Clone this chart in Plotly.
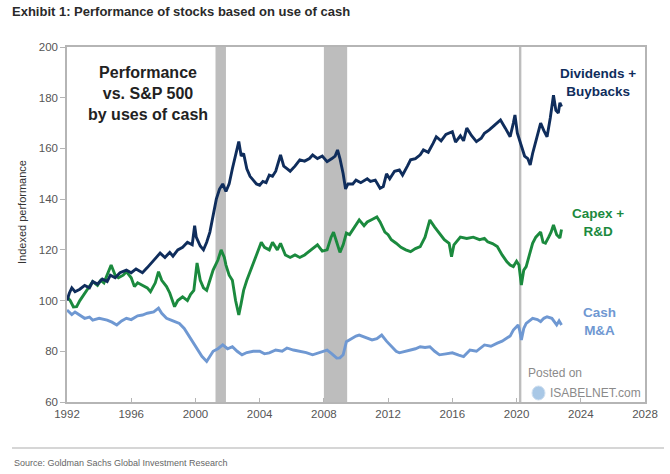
import plotly.graph_objects as go

# ---------------- data ----------------
div_years = [1992.0, 1992.15, 1992.3, 1992.5, 1992.8, 1993.1, 1993.4, 1993.6, 1993.9, 1994.2, 1994.5, 1994.7,
             1995.0, 1995.3, 1995.7, 1996.0, 1996.3, 1996.7, 1997.0, 1997.4, 1997.8, 1998.1, 1998.4, 1998.6,
             1998.9, 1999.2, 1999.5, 1999.8, 1999.95, 2000.05, 2000.3, 2000.5, 2000.7, 2000.9, 2001.1, 2001.3,
             2001.5, 2001.7, 2001.9, 2002.1, 2002.3, 2002.45, 2002.6, 2002.7, 2002.85, 2003.0, 2003.2, 2003.4,
             2003.6, 2003.8, 2004.0, 2004.2, 2004.4, 2004.6, 2004.8, 2005.0, 2005.3, 2005.5, 2005.7, 2005.9,
             2006.2, 2006.5, 2006.8, 2007.1, 2007.3, 2007.6, 2007.9, 2008.2, 2008.5, 2008.7, 2008.85, 2009.0,
             2009.2, 2009.35, 2009.5, 2009.8, 2010.0, 2010.3, 2010.7, 2010.9, 2011.2, 2011.5, 2011.7, 2011.9,
             2012.1, 2012.4, 2012.7, 2012.9, 2013.2, 2013.4, 2013.7, 2014.0, 2014.2, 2014.5, 2014.8, 2015.0,
             2015.3, 2015.6, 2016.0, 2016.2, 2016.5, 2016.7, 2016.9, 2017.2, 2017.5, 2017.8, 2018.0, 2018.3,
             2018.6, 2018.8, 2019.0, 2019.3, 2019.5, 2019.6, 2019.8, 2019.9, 2020.05, 2020.2, 2020.3, 2020.5,
             2020.7, 2020.85, 2021.0, 2021.2, 2021.5, 2021.7, 2021.9, 2022.1, 2022.2, 2022.3, 2022.45, 2022.6,
             2022.7, 2022.8]
div_values = [100, 103, 105, 103.5, 104.5, 106, 105, 107.5, 106.5, 108.5, 107.5, 110,
              109, 111, 112, 111, 112.5, 111, 113, 116, 118.7, 117, 119, 117.5,
              120, 121, 123, 122, 129.5, 125, 121.5, 120, 123, 127, 133, 140,
              144, 146, 143, 146, 152, 156, 159, 162.7, 157, 158, 152, 149,
              147.5, 146, 145.5, 147, 146.5, 149.5, 149, 151, 157.4, 153, 152, 151,
              153, 155.5, 155, 156, 157.4, 156, 157, 154.8, 156, 157, 159.4, 156,
              150, 144, 146, 146, 147.5, 146.5, 148, 147, 147.5, 144.3, 145, 150,
              148, 151, 151.5, 149.5, 153, 155.5, 156, 157.5, 159.4, 158.5, 162, 164.6,
              163, 165.5, 166.6, 162.5, 165, 163, 168, 165, 162.7, 164, 166, 167.3,
              169, 170, 171.2, 168, 166, 164.6, 170, 173.2, 166, 163, 160.7, 157,
              156, 153.5, 158, 163, 170, 167, 164.6, 172, 176, 181, 175, 174,
              178, 176.5]

capex_years = [1992.0, 1992.2, 1992.4, 1992.6, 1992.8, 1993.1, 1993.3, 1993.6, 1993.9, 1994.1, 1994.3, 1994.5,
               1994.75, 1995.0, 1995.2, 1995.5, 1995.7, 1996.0, 1996.2, 1996.4, 1996.7, 1997.0, 1997.2, 1997.5,
               1997.7, 1997.9, 1998.2, 1998.4, 1998.7, 1998.9, 1999.2, 1999.5, 1999.7, 1999.9, 2000.1, 2000.3,
               2000.5, 2000.7, 2000.9, 2001.1, 2001.4, 2001.6, 2001.8, 2001.9, 2002.1, 2002.3, 2002.5, 2002.7,
               2002.85, 2003.0, 2003.2, 2003.5, 2003.8, 2004.1, 2004.3, 2004.6, 2004.8, 2005.1, 2005.3, 2005.6,
               2005.9, 2006.2, 2006.5, 2006.8, 2007.1, 2007.4, 2007.6, 2007.9, 2008.2, 2008.45, 2008.6, 2008.8,
               2009.0, 2009.2, 2009.4, 2009.6, 2009.8, 2010.0, 2010.2, 2010.5, 2010.7, 2011.0, 2011.3, 2011.5,
               2011.8, 2012.0, 2012.2, 2012.5, 2012.8, 2013.1, 2013.4, 2013.7, 2014.0, 2014.3, 2014.6, 2014.9,
               2015.2, 2015.5, 2015.8, 2015.95, 2016.1, 2016.5, 2016.9, 2017.3, 2017.7, 2018.0, 2018.2, 2018.5,
               2018.8, 2019.1, 2019.4, 2019.6, 2019.8, 2020.0, 2020.15, 2020.3, 2020.45, 2020.6, 2020.8, 2021.0,
               2021.2, 2021.5, 2021.65, 2021.8, 2022.0, 2022.15, 2022.3, 2022.5, 2022.7, 2022.8]
capex_values = [101.5, 100, 97.5, 97.6, 100, 103, 104.5, 107.5, 106, 108, 107, 110,
                114, 110, 109, 110, 111.4, 109, 105.5, 107, 106, 105, 103.5, 107,
                111.4, 108, 105.5, 103, 97.6, 100, 101.5, 100, 102.5, 104, 114.8, 108,
                105, 104, 108, 112, 116, 120, 117, 114, 110, 108, 100, 94.3,
                99, 104, 108, 113.4, 118, 123, 121, 120, 123, 120, 122.6, 118,
                117, 118, 117, 118, 119.5, 121, 122, 119.5, 120, 125, 127, 123,
                119, 122, 126.6, 126, 128, 130, 131.8, 129.5, 131, 132, 133, 131,
                127, 126, 124, 122.6, 121, 120, 119.3, 120.5, 121.3, 125, 131.8, 129,
                126.6, 124, 122.6, 117.3, 122, 125, 124.5, 125, 124, 124.5, 123.2, 122.5,
                121.3, 118, 115.3, 114, 113.4, 115.5, 114, 106.1, 112, 113.4, 118, 122.6,
                125, 127, 123, 122.6, 125, 127, 129.8, 126, 124.7, 128]

cash_years = [1992.0, 1992.3, 1992.5, 1992.8, 1993.1, 1993.4, 1993.6, 1994.0, 1994.5, 1994.8, 1995.1, 1995.4,
              1995.7, 1996.0, 1996.4, 1996.7, 1997.0, 1997.4, 1997.7, 1997.9, 1998.2, 1998.6, 1999.0, 1999.3,
              1999.5, 1999.8, 2000.1, 2000.4, 2000.7, 2000.9, 2001.1, 2001.4, 2001.7, 2002.0, 2002.3, 2002.6,
              2002.9, 2003.2, 2003.6, 2004.0, 2004.3, 2004.6, 2005.0, 2005.4, 2005.7, 2006.1, 2006.5, 2006.9,
              2007.3, 2007.7, 2008.0, 2008.2, 2008.5, 2008.8, 2009.0, 2009.2, 2009.4, 2009.7, 2010.0, 2010.2,
              2010.6, 2011.0, 2011.3, 2011.6, 2011.9, 2012.2, 2012.5, 2012.7, 2013.0, 2013.4, 2013.7, 2014.0,
              2014.3, 2014.6, 2014.9, 2015.2, 2015.6, 2016.0, 2016.4, 2016.7, 2017.1, 2017.5, 2018.0, 2018.4,
              2018.8, 2019.1, 2019.4, 2019.6, 2019.8, 2020.1, 2020.2, 2020.3, 2020.45, 2020.6, 2020.8, 2021.0,
              2021.3, 2021.5, 2021.7, 2021.9, 2022.2, 2022.4, 2022.5, 2022.65, 2022.8]
cash_values = [96.3, 94.5, 95.5, 94.3, 93, 93.5, 92.3, 93, 92.3, 91.5, 90.4, 92,
               93, 92.5, 94, 94.3, 95, 95.5, 97, 95, 93, 92, 91, 89,
               87, 84, 80.5, 78, 76, 78, 80, 81, 82.5, 81, 81.8, 80,
               78.6, 79.5, 80, 80, 79, 79.4, 80.5, 80, 81.3, 80.5, 80, 79.5,
               78.6, 79.5, 80, 80.5, 79, 77.3, 77.4, 78.6, 83.8, 85, 86, 86.4,
               85.5, 84.5, 85, 86.4, 84, 82, 80, 79.4, 80, 80.5, 81, 81.8,
               81.5, 81.8, 80, 78.6, 79, 79.4, 78.5, 77.9, 80.5, 80, 82.5, 82,
               83.2, 84, 85.2, 86, 88.4, 90.4, 88, 84.5, 89, 91, 92, 93,
               92.5, 91.7, 93, 93.6, 93, 91.5, 90.4, 92, 90.4]

recession_starts = [2001.25, 2008.0, 2020.15]
recession_ends = [2001.9, 2009.45, 2020.3]

x_ticks = [1992, 1996, 2000, 2004, 2008, 2012, 2016, 2020, 2024, 2028]
y_ticks = [60, 80, 100, 120, 140, 160, 180, 200]

NAVY = "#0f2d5c"
GREEN = "#1b8a3e"
LIGHT = "#6f98d2"
SANS = "Liberation Sans, Arial, sans-serif"

W, H = 670, 474
PL, PR, PT, PB = 67, 645, 47, 402  # plot area in pixels (from top-left)

fig = go.Figure()
for xs, ys, name, col in [(cash_years, cash_values, "Cash M&A", LIGHT),
                          (capex_years, capex_values, "Capex + R&D", GREEN),
                          (div_years, div_values, "Dividends + Buybacks", NAVY)]:
    fig.add_trace(go.Scatter(x=xs, y=ys, mode="lines", name=name,
                             line=dict(color=col, width=2.9), showlegend=False))

for s, e in zip(recession_starts, recession_ends):
    fig.add_shape(type="rect", xref="x", yref="paper", x0=s, x1=e, y0=0, y1=1,
                  fillcolor="#bdbdbd", line=dict(width=0), layer="below")

fig.update_layout(
    width=W, height=H,
    margin=dict(l=PL, r=W - PR, t=PT, b=H - PB, pad=0),
    paper_bgcolor="white", plot_bgcolor="white",
    font=dict(family=SANS, size=11.5, color="#555"),
    xaxis=dict(range=[1992, 2028], tickvals=x_ticks, ticktext=[str(v) for v in x_ticks],
               showgrid=False, zeroline=False, showline=True, linecolor="#b5b5b5", linewidth=1.5,
               mirror=True, ticks="inside", ticklen=4, tickcolor="#b5b5b5",
               tickfont=dict(family=SANS, size=11.5, color="#555")),
    yaxis=dict(range=[60, 200], tickvals=y_ticks, ticktext=[str(v) for v in y_ticks],
               showgrid=False, zeroline=False, showline=True, linecolor="#b5b5b5", linewidth=1.5,
               mirror=True, ticks="outside", ticklen=5, tickcolor="#b5b5b5",
               tickfont=dict(family=SANS, size=11.5, color="#555")),
)


def to_paper(px, py):
    """pixel (from top-left of figure) -> paper coords"""
    return (px - PL) / (PR - PL), (PB - py) / (PB - PT)


annots = [
    dict(text="<b>Exhibit 1: Performance of stocks based on use of cash</b>", x=10, y=12, size=13,
         color="#2a2a2a", xanchor="left"),
    dict(text="Indexed performance", x=22, y=212, size=11, color="#333", xanchor="center", angle=-90),
    dict(text="<b>Performance<br>vs. S&P 500<br>by uses of cash</b>", x=148, y=93, size=16,
         color="#222", xanchor="center"),
    dict(text="<b>Dividends +<br>Buybacks</b>", x=598, y=82, size=13.5, color=NAVY, xanchor="center"),
    dict(text="<b>Capex +<br>R&D</b>", x=598, y=222, size=13.5, color=GREEN, xanchor="center"),
    dict(text="<b>Cash<br>M&A</b>", x=599, y=321, size=13.5, color=LIGHT, xanchor="center"),
    dict(text="Posted on", x=526, y=373, size=12, color="#8a8a8a", xanchor="left"),
    dict(text="ISABELNET.com", x=548, y=393, size=12, color="#8a8a8a", xanchor="left"),
    dict(text="Source: Goldman Sachs Global Investment Research", x=12, y=463, size=9, color="#666",
         xanchor="left"),
]
for a in annots:
    fx, fy = to_paper(a["x"], a["y"])
    fig.add_annotation(text=a["text"], xref="paper", yref="paper", x=fx, y=fy,
                       xanchor=a["xanchor"], yanchor="middle", showarrow=False,
                       textangle=a.get("angle", 0),
                       align="center" if a["xanchor"] == "center" else "left",
                       font=dict(family=SANS, size=a["size"], color=a["color"]))

# small logo disc next to ISABELNET text
lx0, ly0 = to_paper(532, 400)
lx1, ly1 = to_paper(545, 386)
fig.add_shape(type="circle", xref="paper", yref="paper", x0=lx0, x1=lx1, y0=ly0, y1=ly1,
              fillcolor="#a9c8e6", line=dict(color="#cfdff0", width=1))

# separator line above the source
sx0, sy = to_paper(12, 448)
sx1, _ = to_paper(664, 448)
fig.add_shape(type="line", xref="paper", yref="paper", x0=sx0, x1=sx1, y0=sy, y1=sy,
              line=dict(color="#c8c8c8", width=1.5))

fig.write_html("out.html", config={"displayModeBar": False},
               post_script="document.body.style.margin='0';")
